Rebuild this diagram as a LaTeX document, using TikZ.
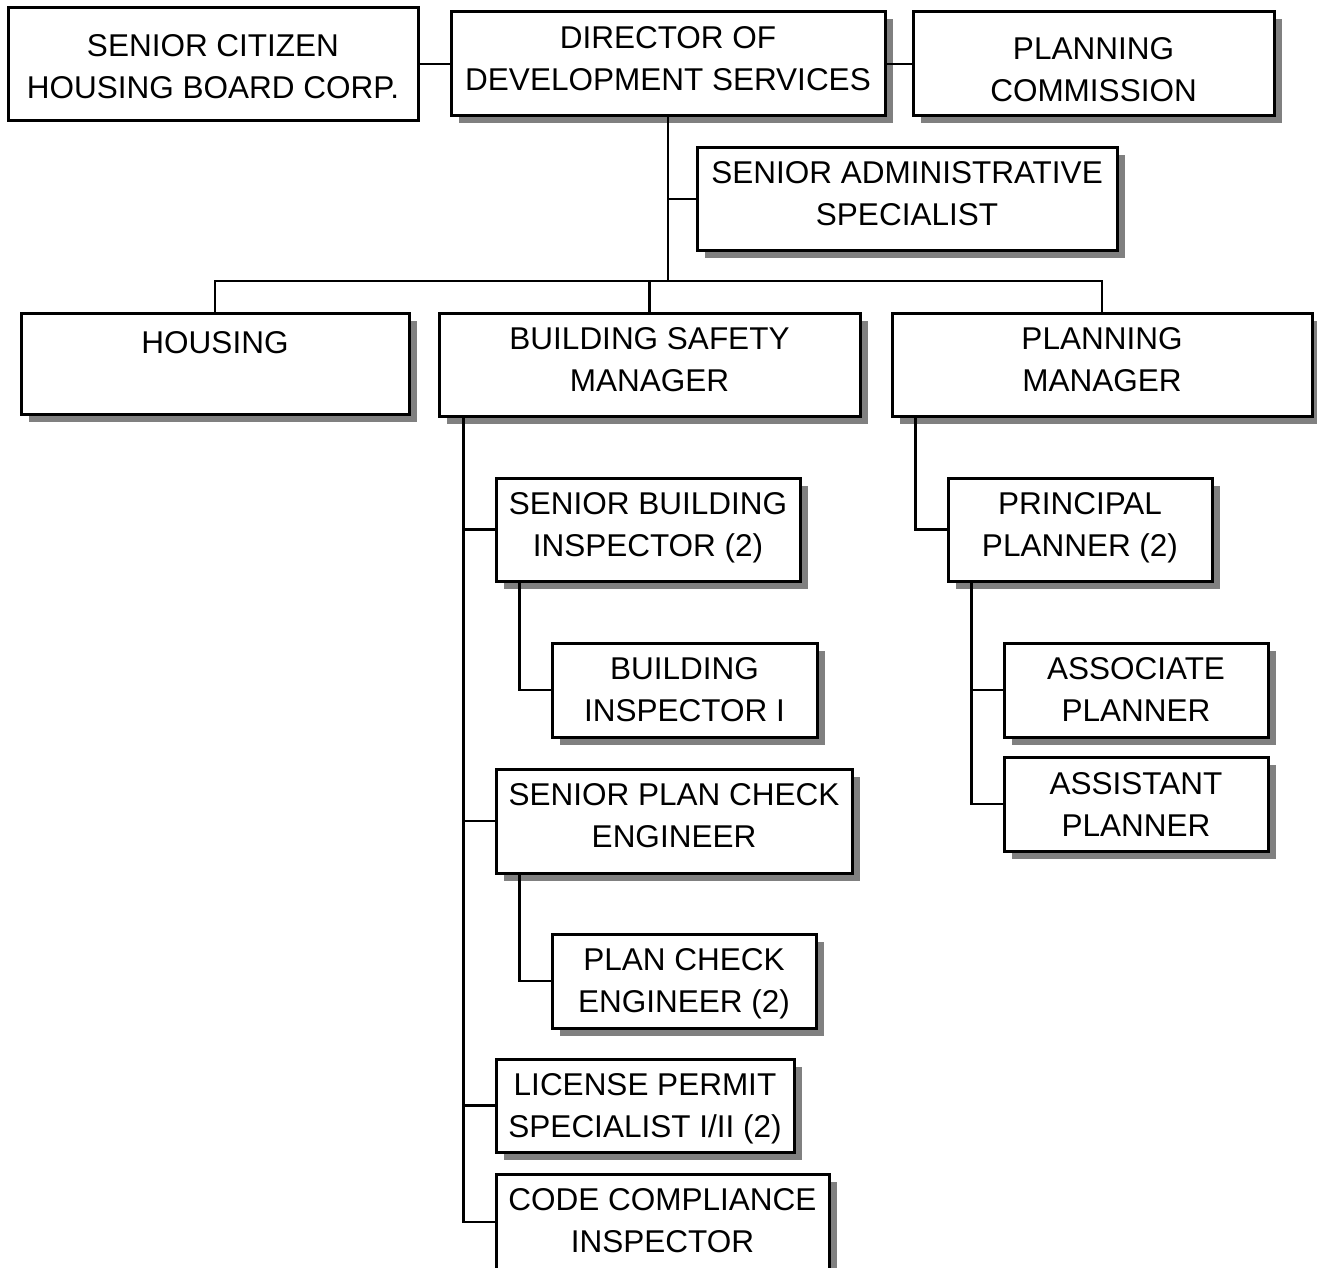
\documentclass[tikz,border=0pt]{standalone}
\usepackage{fontspec}
\setmainfont{Liberation Sans}
\usetikzlibrary{shadows}
\definecolor{shadowgray}{RGB}{128,128,128}
\begin{document}
\begin{tikzpicture}[x=1pt,y=-1pt,
  ob/.style={draw, line width=3pt, fill=white, inner sep=0pt, rectangle},
  shb/.style={ob, drop shadow={shadow xshift=7.5pt, shadow yshift=-7.5pt, fill=shadowgray, opacity=1}},
  txt/.style={font=\fontsize{31.5}{42}\selectfont, align=center, inner sep=0pt, anchor=north},
  conn/.style={draw, line width=2.8pt}]
\useasboundingbox (0,0) rectangle (1317,1268);
% top row
\node[ob, minimum width=410pt, minimum height=113pt,
  label={[txt, yshift=-28pt]north:SENIOR CITIZEN\\HOUSING BOARD CORP.}] (sch) at (213,64) {};
\node[shb, minimum width=434pt, minimum height=104pt,
  label={[txt, yshift=-16pt]north:DIRECTOR OF\\DEVELOPMENT SERVICES}] (dir) at (668,64) {};
\node[shb, minimum width=361pt, minimum height=104pt,
  label={[txt, yshift=-27pt]north:PLANNING\\COMMISSION}] (pc) at (1093.5,64) {};
\node[shb, minimum width=420pt, minimum height=102pt,
  label={[txt, yshift=-15pt]north:SENIOR ADMINISTRATIVE\\SPECIALIST}] (sas) at (907,199) {};
% second row
\node[shb, minimum width=388pt, minimum height=101pt,
  label={[txt, yshift=-20pt]north:HOUSING}] (hou) at (215,363.5) {};
\node[shb, minimum width=421pt, minimum height=103pt,
  label={[txt, yshift=-16pt]north:BUILDING SAFETY\\MANAGER}] (bsm) at (649.5,364.5) {};
\node[shb, minimum width=420pt, minimum height=103pt,
  label={[txt, yshift=-16pt]north:PLANNING\\MANAGER}] (pm) at (1102,364.5) {};
% building safety branch
\node[shb, minimum width=304pt, minimum height=103pt,
  label={[txt, yshift=-16pt]north:SENIOR BUILDING\\INSPECTOR (2)}] (sbi) at (648,529.5) {};
\node[shb, minimum width=265pt, minimum height=94pt,
  label={[txt, yshift=-16pt]north:BUILDING\\INSPECTOR I}] (bi) at (684.5,690) {};
\node[shb, minimum width=356pt, minimum height=104pt,
  label={[txt, yshift=-16pt]north:SENIOR PLAN CHECK\\ENGINEER}] (spce) at (674,821) {};
\node[shb, minimum width=264pt, minimum height=94pt,
  label={[txt, yshift=-16pt]north:PLAN CHECK\\ENGINEER (2)}] (pce) at (684,981) {};
\node[shb, minimum width=298pt, minimum height=93pt,
  label={[txt, yshift=-16pt]north:LICENSE PERMIT\\SPECIALIST I/II (2)}] (lps) at (645,1105.5) {};
\node[shb, minimum width=333pt, minimum height=96pt,
  label={[txt, yshift=-16pt]north:CODE COMPLIANCE\\INSPECTOR}] (cci) at (662.5,1222) {};
% planning branch
\node[shb, minimum width=264pt, minimum height=103pt,
  label={[txt, yshift=-16pt]north:PRINCIPAL\\PLANNER (2)}] (pp) at (1080,529.5) {};
\node[shb, minimum width=264pt, minimum height=94pt,
  label={[txt, yshift=-16pt]north:ASSOCIATE\\PLANNER}] (ap) at (1136,690) {};
\node[shb, minimum width=264pt, minimum height=94pt,
  label={[txt, yshift=-17pt]north:ASSISTANT\\PLANNER}] (asp) at (1136,804) {};
% connectors
\draw[conn] (sch.east) -- (dir.west);
\draw[conn] (dir.east) -- (pc.west);
\coordinate (bus) at (668,281);
\draw[conn] (dir.south) -- (bus);
\draw[conn] (sas.west -| bus) -- (sas.west);
\draw[conn] (hou.north) |- (bus) -| (pm.north);
\draw[conn] (bsm.north) -- (bsm.north |- bus);
\coordinate (bt) at ([xshift=26pt]bsm.south west);
\draw[conn] (bt) |- (cci.west);
\draw[conn] (sbi.west) -- (sbi.west -| bt);
\draw[conn] (spce.west) -- (spce.west -| bt);
\draw[conn] (lps.west) -- (lps.west -| bt);
\coordinate (st) at ([xshift=25pt]sbi.south west);
\draw[conn] (st) |- (bi.west);
\coordinate (pt) at ([xshift=25pt]spce.south west);
\draw[conn] (pt) |- (pce.west);
\coordinate (mt) at ([xshift=25pt]pm.south west);
\draw[conn] (mt) |- (pp.west);
\coordinate (ppt) at ([xshift=25pt]pp.south west);
\draw[conn] (ppt) |- (asp.west);
\draw[conn] (ap.west) -- (ap.west -| ppt);
\end{tikzpicture}
\end{document}
